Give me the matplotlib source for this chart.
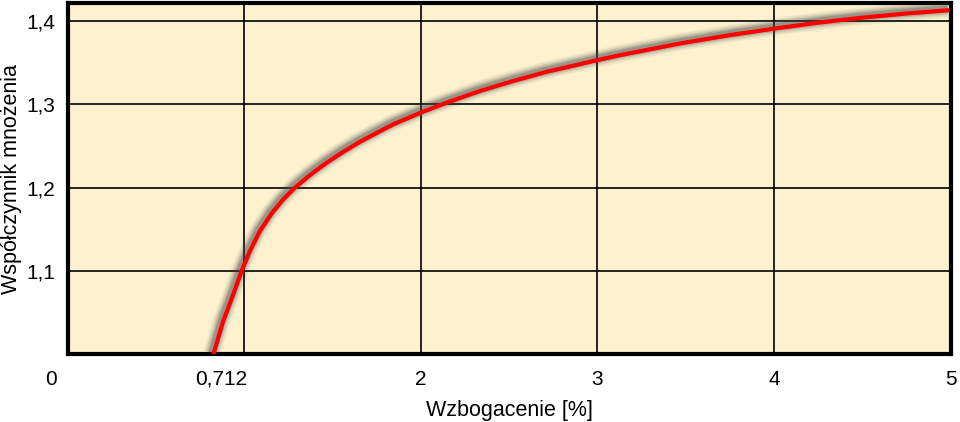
import matplotlib
matplotlib.use('Agg')
import matplotlib.pyplot as plt
import matplotlib.patheffects as pe
import matplotlib.transforms as mtransforms

plt.rcParams['font.family'] = ['Liberation Sans', 'DejaVu Sans']

# curve (x in axis units, gridline 1 carries the 0,712 label)
enrich = [0.826, 0.882, 0.939, 0.986, 1.033, 1.090, 1.156, 1.222, 1.288, 1.373,
          1.468, 1.562, 1.656, 1.745, 1.845, 2.0, 2.147, 2.336, 2.524, 2.713,
          3.0, 3.129, 3.468, 3.75, 4.006, 4.25, 4.5, 4.75, 4.993]
kfactor = [1.000, 1.040, 1.072, 1.100, 1.124, 1.148, 1.169, 1.186, 1.200, 1.215,
           1.230, 1.243, 1.255, 1.265, 1.276, 1.290, 1.302, 1.316, 1.328, 1.339,
           1.353, 1.359, 1.373, 1.383, 1.391, 1.398, 1.404, 1.409, 1.413]

xticks = [0, 1, 2, 3, 4, 5]
xticklabels = ['0', '0,712', '2', '3', '4', '5']
yticks = [1.1, 1.2, 1.3, 1.4]
yticklabels = ['1,1', '1,2', '1,3', '1,4']

fig = plt.figure(figsize=(9.6, 4.22), dpi=100)
ax = fig.add_axes([67.5/960, 1-354.3/422, (950.5-67.5)/960, (354.3-3)/422])
ax.set_facecolor('#FDF1D0')

ax.set_xlim(0, 5)
ax.set_ylim(1.0, 1.4216)
ax.set_xticks(xticks)
ax.set_xticklabels(xticklabels)
ax.set_yticks(yticks)
ax.set_yticklabels(yticklabels)
ax.tick_params(axis='x', length=0, labelsize=15, pad=11)
ax.tick_params(axis='y', length=0, labelsize=15, pad=9)

ax.grid(True, color='black', linewidth=1.2)
for s in ax.spines.values():
  s.set_linewidth(3)
  s.set_color('black')

# shift the first two labels the way the original has them
labs = ax.get_xticklabels()
labs[0].set_transform(labs[0].get_transform() + mtransforms.ScaledTranslation(-0.17, 0, fig.dpi_scale_trans))
labs[1].set_horizontalalignment('right')
labs[1].set_transform(labs[1].get_transform() + mtransforms.ScaledTranslation(0.03, 0, fig.dpi_scale_trans))

glow = [pe.Stroke(linewidth=w, foreground='#444444', alpha=a, offset=(-1, 1))
        for w, a in [(13, 0.05), (11, 0.08), (9, 0.12), (7, 0.18), (5, 0.25)]]
ax.plot(enrich, kfactor, color='#FF0000', linewidth=3,
        solid_capstyle='butt', zorder=5, clip_on=True,
        path_effects=glow + [pe.Normal()])

ax.set_xlabel('Wzbogacenie [%]', fontsize=15.5)
ax.set_ylabel('Współczynnik mnożenia', fontsize=15.5)
ax.xaxis.set_label_coords(0.5, -0.159)
ax.yaxis.set_label_coords(-0.063, 0.5)
ax.xaxis.label.set_va('center')
ax.yaxis.label.set_va('center')

fig.savefig('out.png', dpi=100)
